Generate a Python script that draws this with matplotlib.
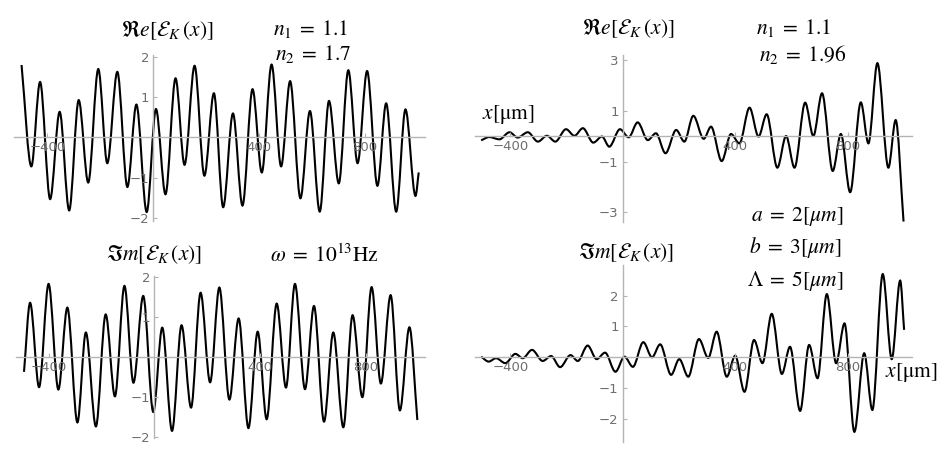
import numpy as np
import matplotlib
matplotlib.use('Agg')
import matplotlib.pyplot as plt
from matplotlib.path import Path
from matplotlib.patches import PathPatch

plt.rcParams['mathtext.fontset'] = 'stix'

# extrema (x in um, field in arb. units)
re1_x = [-498, -461, -428, -390, -354, -318, -282, -246, -208, -174, -136, -98, -64, -25, 10, 46, 84, 118,
         156, 193, 229, 264, 301, 337, 375, 410, 447, 483, 517, 556, 592, 629, 664, 701, 737, 772, 808,
         847, 880, 918, 953, 991, 1003]
re1_y = [1.79, -0.72, 1.37, -1.53, 0.63, -1.81, 0.92, -1.12, 1.69, -0.64, 1.62, -1.23, 0.81, -1.85, 0.70,
         -1.41, 1.46, -0.68, 1.77, -0.95, 1.09, -1.73, 0.59, -1.69, 1.19, -0.87, 1.80, -0.72, 1.39, -1.51,
         0.65, -1.84, 0.90, -1.14, 1.66, -0.64, 1.64, -1.20, 0.84, -1.84, 0.69, -1.45, -0.87]

im1_x = [-493, -470, -436, -400, -363, -329, -291, -259, -221, -184, -149, -113, -79, -42, -4, 30, 67, 103,
         139, 175, 211, 246, 284, 319, 356, 391, 425, 463, 498, 532, 570, 604, 642, 677, 715, 750, 787,
         822, 857, 894, 929, 965, 995]
im1_y = [-0.37, 1.35, -0.75, 1.82, -0.81, 1.23, -1.63, 0.61, -1.73, 1.06, -0.98, 1.77, -0.64, 1.52, -1.37,
         0.73, -1.84, 0.79, -1.26, 1.60, -0.63, 1.73, -1.06, 0.96, -1.77, 0.63, -1.55, 1.33, -0.76, 1.82,
         -0.80, 1.27, -1.61, 0.61, -1.75, 1.04, -1.00, 1.74, -0.66, 1.54, -1.33, 0.74, -1.57]

re2_x = [-504, -475, -439, -403, -374, -338, -302, -270, -240, -202, -172, -142, -105, -74, -48, -10, 21,
         53, 89, 118, 152, 190, 219, 251, 288, 314, 352, 385, 415, 451, 483, 512, 550, 581, 611, 649, 678,
         709, 747, 776, 809, 847, 874, 906, 945, 971, 999]
re2_y = [-0.16, -0.03, -0.12, 0.16, -0.05, 0.16, -0.21, 0.02, -0.21, 0.28, 0.02, 0.32, -0.25, -0.01, -0.41,
         0.28, -0.04, 0.55, -0.15, 0.12, -0.67, 0.25, -0.21, 0.81, -0.10, 0.38, -0.98, 0.09, -0.28, 1.13,
         -0.01, 0.87, -1.24, 0.01, -1.24, 1.33, 0.01, 1.70, -1.37, 0.09, -2.21, 1.34, -0.28, 2.89, -1.24,
         0.64, -3.37]

im2_x = [-504, -477, -451, -418, -382, -356, -323, -285, -255, -223, -186, -160, -125, -93, -63, -26, 6,
         36, 73, 104, 133, 172, 201, 233, 271, 304, 334, 370, 400, 433, 467, 497, 530, 566, 595, 631, 663,
         693, 726, 759, 789, 824, 859, 888, 925, 957, 987, 1001]
im2_y = [0.02, -0.14, -0.03, -0.19, 0.11, -0.03, 0.24, -0.12, 0.04, -0.32, 0.07, -0.12, 0.38, -0.06, 0.15,
         -0.47, 0.02, -0.31, 0.49, 0.00, 0.42, -0.57, -0.06, -0.63, 0.59, -0.02, 0.83, -0.63, 0.05, -1.12,
         0.56, -0.19, 1.41, -0.54, 0.34, -1.74, 0.40, -0.68, 2.05, -0.19, 1.10, -2.42, 0.13, -1.71, 2.70,
         -0.06, 2.49, 0.89]

xticks = [-400, 400, 800]
yticks_a = [-2, -1, 1, 2]
yticks_b = [-3, -1, 1, 3]


def smooth_path(xs, ys):
    # cubic bezier through the extrema, flat at each turning point
    verts = [(xs[0], ys[0])]
    codes = [Path.MOVETO]
    n = len(xs)
    for i in range(1, n):
        x0, y0, x1, y1 = xs[i-1], ys[i-1], xs[i], ys[i]
        dx = (x1 - x0) / 3.0
        c1 = (x0 + dx, y0 + (y1 - y0) / 3.0) if i == 1 else (x0 + dx, y0)
        c2 = (x1 - dx, y1 - (y1 - y0) / 3.0) if i == n - 1 else (x1 - dx, y1)
        verts += [c1, c2, (x1, y1)]
        codes += [Path.CURVE4] * 3
    return Path(verts, codes)


def setup(ax, xlim, ylim, yticks):
    ax.set_xlim(xlim)
    ax.set_ylim(ylim)
    ax.patch.set_visible(False)
    for s in ['top', 'right']:
        ax.spines[s].set_visible(False)
    for s in ['left', 'bottom']:
        ax.spines[s].set_position(('data', 0))
        ax.spines[s].set_color('#b4b4b4')
        ax.spines[s].set_linewidth(1.0)
    ax.set_xticks(xticks)
    ax.set_yticks(yticks)
    ax.tick_params(direction='in', length=3, width=0.8, color='#b4b4b4',
                   labelcolor='#6e6e6e', labelsize=9.5, pad=3)


W, H = 948, 449
fig = plt.figure(figsize=(W / 100, H / 100), dpi=100)

ax1 = fig.add_axes([0.0152, 0.5089, 0.4326, 0.3679])
ax2 = fig.add_axes([0.5013, 0.5049, 0.4610, 0.3724])
ax3 = fig.add_axes([0.0164, 0.0234, 0.4322, 0.3630])
ax4 = fig.add_axes([0.5013, 0.0163, 0.4610, 0.3938])

setup(ax1, (-525, 1025), (-2.06, 2.03), yticks_a)
setup(ax2, (-525, 1030), (-3.40, 3.21), yticks_b)
setup(ax3, (-525, 1025), (-2.03, 2.03), yticks_a)
setup(ax4, (-525, 1030), (-2.74, 3.00), yticks_a)

for ax, xs, ys in [(ax1, re1_x, re1_y), (ax2, re2_x, re2_y), (ax3, im1_x, im1_y), (ax4, im2_x, im2_y)]:
    ax.add_patch(PathPatch(smooth_path(xs, ys), fill=False, edgecolor='black', lw=1.5))


def put(x, y, s, ha='left'):
    fig.text(x / W, 1 - y / H, s, ha=ha, va='center', fontsize=15.5, color='black')


put(167, 30, r'$\Re e[\mathcal{E}_K\,(x)]$', ha='center')
put(273, 29, r'$n_1\;=\;1.1$')
put(275, 54, r'$n_2\;=\;1.7$')

put(628, 28, r'$\Re e[\mathcal{E}_K\,(x)]$', ha='center')
put(756, 28, r'$n_1\;=\;1.1$')
put(759, 54, r'$n_2\;=\;1.96$')
put(482, 115, r'$x[\mathrm{μm}]$')
put(751, 216, r'$a\;=\;2[\mu m]$')

put(154, 255, r'$\Im m[\mathcal{E}_K\,(x)]$', ha='center')
put(270, 255, r'$\omega\;=\;10^{13}\mathrm{Hz}$')

put(626, 253, r'$\Im m[\mathcal{E}_K\,(x)]$', ha='center')
put(749, 247, r'$b\;=\;3[\mu m]$')
put(747, 281, r'$\Lambda\;=\;5[\mu m]$')
put(885, 373, r'$x[\mathrm{μm}]$')

fig.savefig('out.png', dpi=100)
